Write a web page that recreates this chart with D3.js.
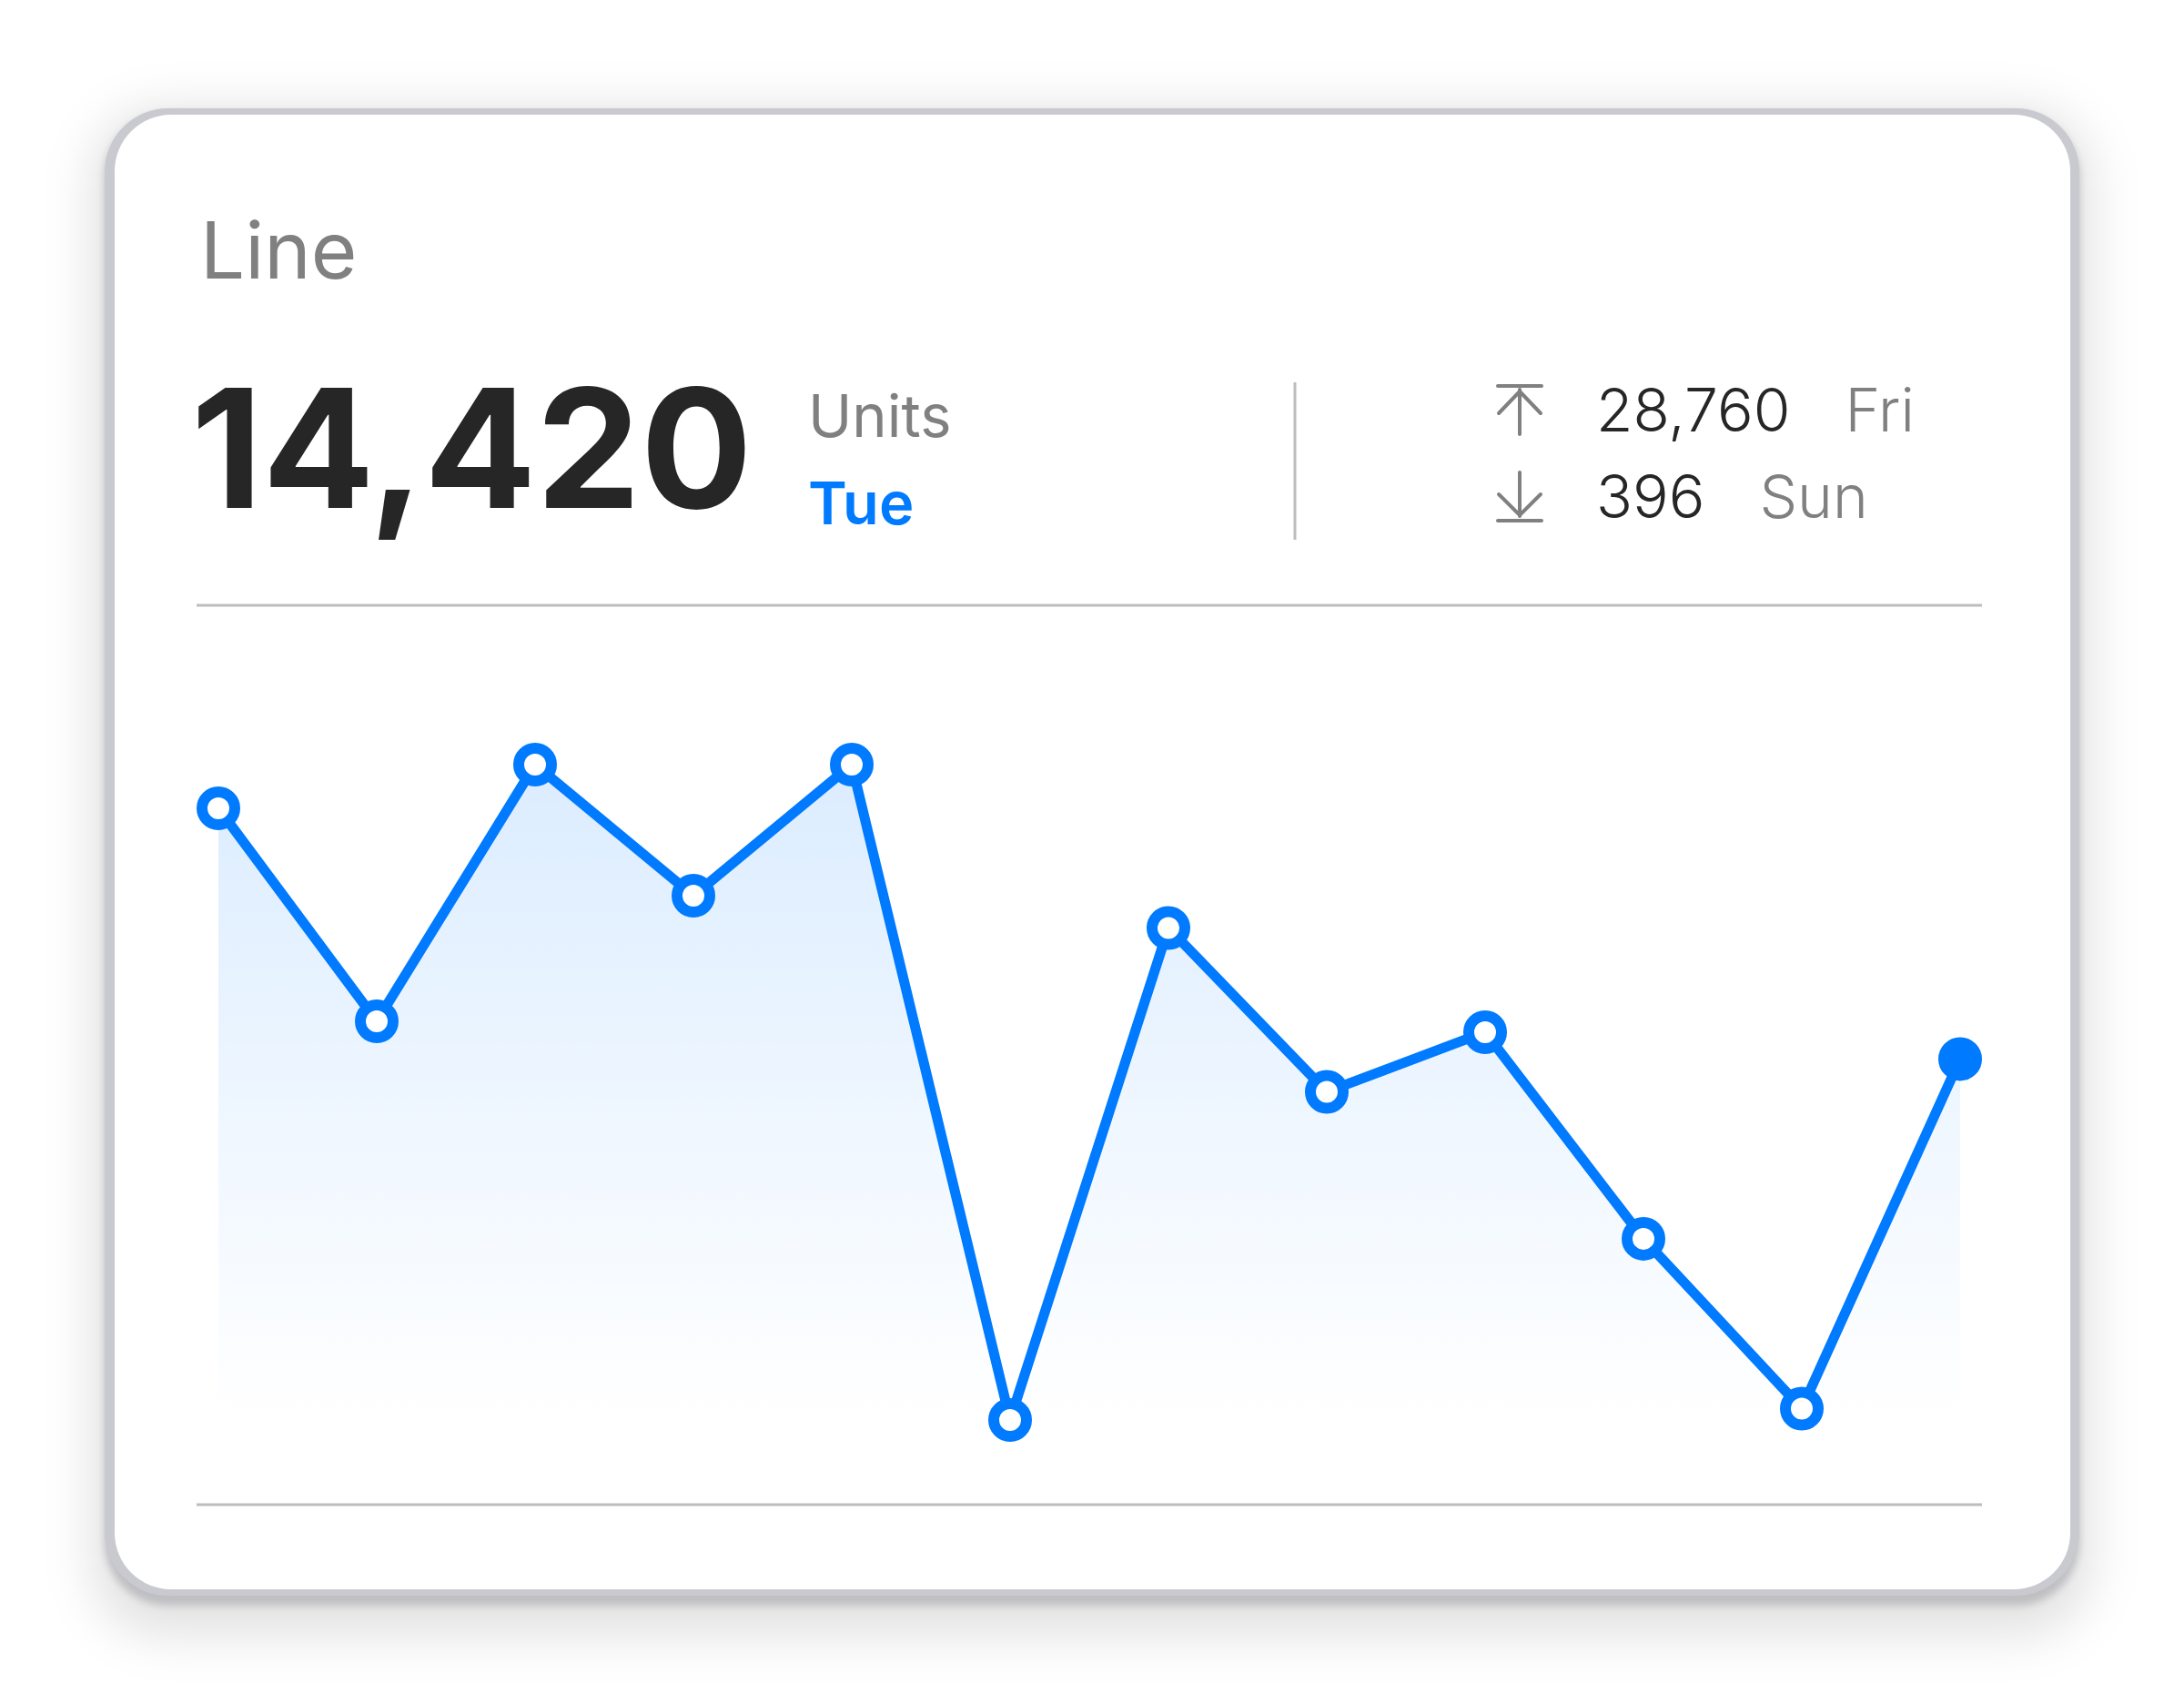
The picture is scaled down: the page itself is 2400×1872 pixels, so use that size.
<!DOCTYPE html>
<html>
<head>
<meta charset="utf-8">
<script src="https://cdn.jsdelivr.net/npm/d3@7"></script>
<style>
  html, body { margin: 0; padding: 0; background: #ffffff; }
  svg { display: block; font-family: "Inter", "Noto Sans", sans-serif; }
</style>
</head>
<body>
<svg id="chart" width="2400" height="1872"></svg>
<script>
// data
const days = ["p1", "p2", "p3", "p4", "p5", "p6", "p7", "p8", "p9", "p10", "p11", "p12"];
const values = [26870, 17650, 28760, 23090, 28760, 396, 21690, 14600, 17180, 8240, 890, 16020];
const title = "Line";
const current = { value: "14,420", unit: "Units", day: "Tue" };
const high = { value: "28,760", day: "Fri" };
const low = { value: "396", day: "Sun" };

const blue = "#007aff";
const grey = "#808080";
const ink = "#262626";
const rule = "#bdbdbd";

const svg = d3.select("#chart");
const defs = svg.append("defs");

// card shadows: wide haze + tight one under the bottom edge
const haze = defs.append("filter").attr("id", "haze")
  .attr("x", "-10%").attr("y", "-15%").attr("width", "120%").attr("height", "130%");
haze.append("feGaussianBlur").attr("stdDeviation", 26);
const tight = defs.append("filter").attr("id", "tight")
  .attr("x", "-5%").attr("y", "-5%").attr("width", "110%").attr("height", "110%");
tight.append("feGaussianBlur").attr("stdDeviation", 4);

const grad = defs.append("linearGradient").attr("id", "fade")
  .attr("gradientUnits", "userSpaceOnUse")
  .attr("x1", 0).attr("x2", 0).attr("y1", 840).attr("y2", 1560);
grad.append("stop").attr("offset", "0%").attr("stop-color", blue).attr("stop-opacity", 0.14);
grad.append("stop").attr("offset", "100%").attr("stop-color", blue).attr("stop-opacity", 0);

// card
svg.append("rect")
  .attr("x", 100).attr("y", 118).attr("width", 2200).attr("height", 1680)
  .attr("rx", 80).attr("fill", "rgba(0,0,0,0.11)").attr("filter", "url(#haze)");
svg.append("rect")
  .attr("x", 115).attr("y", 124).attr("width", 2170).attr("height", 1640)
  .attr("rx", 70).attr("fill", "#bfbfc2").attr("filter", "url(#tight)");
svg.append("rect")
  .attr("x", 115).attr("y", 119).attr("width", 2170).attr("height", 1634)
  .attr("rx", 70).attr("fill", "#c9c9d0");
svg.append("rect")
  .attr("x", 126).attr("y", 126).attr("width", 2149).attr("height", 1620)
  .attr("rx", 62).attr("fill", "#ffffff");

// header
svg.append("text")
  .attr("x", 220).attr("y", 306)
  .attr("font-size", 87).attr("fill", grey)
  .text(title);

svg.append("text")
  .attr("x", 210).attr("y", 558)
  .attr("font-size", 182).attr("font-weight", 700).attr("fill", ink)
  .text(current.value);

svg.append("text")
  .attr("x", 888).attr("y", 480)
  .attr("font-size", 65).attr("fill", grey)
  .text(current.unit);

svg.append("text")
  .attr("x", 888).attr("y", 576)
  .attr("font-size", 65).attr("font-weight", 600).attr("fill", blue)
  .text(current.day);

svg.append("line")
  .attr("x1", 1423).attr("x2", 1423).attr("y1", 420).attr("y2", 593)
  .attr("stroke", rule).attr("stroke-width", 3);

// high / low rows
const rows = [
  { row: high, y: 474, up: true },
  { row: low, y: 569, up: false }
];
rows.forEach((r) => {
  const g = svg.append("g");
  const num = g.append("text")
    .attr("x", 1754).attr("y", r.y)
    .attr("font-size", 66).attr("font-weight", 300).attr("fill", ink)
    .text(r.row.value);
  const w = num.node().getComputedTextLength();
  g.append("text")
    .attr("x", 1754 + w + 60).attr("y", r.y)
    .attr("font-size", 66).attr("font-weight", 300).attr("fill", grey)
    .text(r.row.day);

  const icon = g.append("g")
    .attr("stroke", grey).attr("stroke-width", 4).attr("stroke-linecap", "round")
    .attr("fill", "none");
  if (r.up) {
    icon.append("line").attr("x1", 1646).attr("x2", 1694).attr("y1", 424).attr("y2", 424);
    icon.append("line").attr("x1", 1670).attr("x2", 1670).attr("y1", 428).attr("y2", 477);
    icon.append("path").attr("d", "M1647,454 L1670,430 L1693,454");
  } else {
    icon.append("line").attr("x1", 1646).attr("x2", 1694).attr("y1", 572).attr("y2", 572);
    icon.append("line").attr("x1", 1670).attr("x2", 1670).attr("y1", 519).attr("y2", 567);
    icon.append("path").attr("d", "M1647,543 L1670,566 L1693,543");
  }
});

// rules above and below the plot
svg.append("line")
  .attr("x1", 216).attr("x2", 2178).attr("y1", 665).attr("y2", 665)
  .attr("stroke", rule).attr("stroke-width", 3);
svg.append("line")
  .attr("x1", 216).attr("x2", 2178).attr("y1", 1653).attr("y2", 1653)
  .attr("stroke", rule).attr("stroke-width", 3);

// plot
const x = d3.scalePoint().domain(days).range([240, 2154]);
const y = d3.scaleLinear().domain([396, 28760]).range([1560, 840]);

const data = days.map((d, i) => ({ day: d, value: values[i] }));

const area = d3.area()
  .x((d) => x(d.day))
  .y0(y(396))
  .y1((d) => y(d.value));

const line = d3.line()
  .x((d) => x(d.day))
  .y((d) => y(d.value));

svg.append("path")
  .datum(data)
  .attr("d", area)
  .attr("fill", "url(#fade)");

svg.append("path")
  .datum(data)
  .attr("d", line)
  .attr("fill", "none")
  .attr("stroke", blue)
  .attr("stroke-width", 11)
  .attr("stroke-linejoin", "round");

svg.selectAll(".dot")
  .data(data)
  .enter()
  .append("circle")
  .attr("class", "dot")
  .attr("cx", (d) => x(d.day))
  .attr("cy", (d) => y(d.value))
  .attr("r", 18)
  .attr("fill", (d, i) => (i === data.length - 1 ? blue : "#ffffff"))
  .attr("stroke", blue)
  .attr("stroke-width", 12);
</script>
</body>
</html>
